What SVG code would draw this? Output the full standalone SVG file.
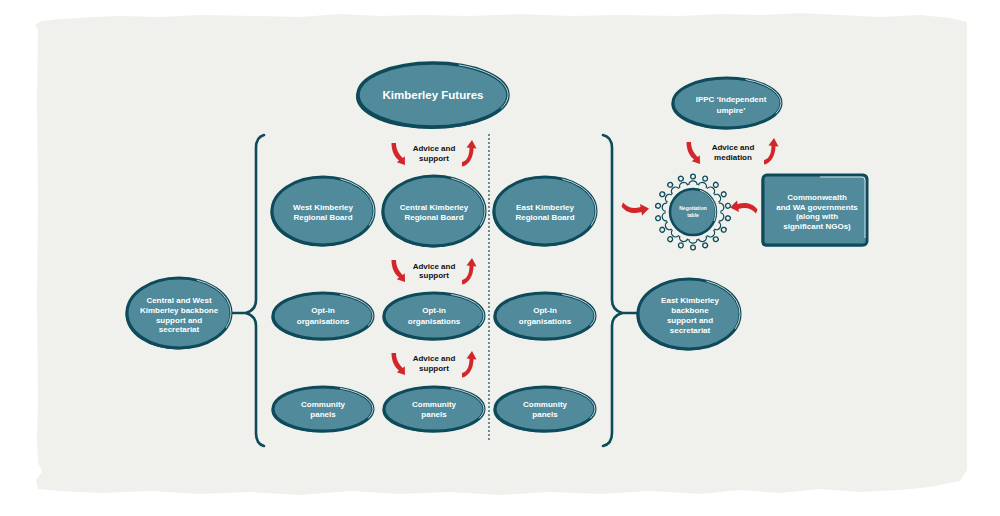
<svg xmlns="http://www.w3.org/2000/svg" xmlns:xlink="http://www.w3.org/1999/xlink" width="1000" height="516" viewBox="0 0 1000 516">
<style>
.el{fill:#508a9b;stroke:#0d4a5a;stroke-width:3}
.sh{fill:#0d4a5a}
.hl{fill:none;stroke:#ffffff;stroke-width:0.9;opacity:0.85}
.t{font-family:"Liberation Sans",Arial,sans-serif;font-weight:bold;font-size:8px;fill:#ffffff;text-anchor:middle}
.lab{font-family:"Liberation Sans",Arial,sans-serif;font-weight:bold;font-size:8px;fill:#111111;text-anchor:middle}
.br{fill:none;stroke:#0d4a5a;stroke-width:2.6;stroke-linecap:round;stroke-linejoin:round}
.arr{fill:#d3262b}
.ppl{fill:none;stroke:#0d4a5a;stroke-width:1.3}
</style>
<defs>
<path id="arrDown" d="M-1.5,0 C-1.5,8 1.5,14 6,17.5 L3.8,19.2 L12,22 L11.8,13.2 L9.8,15 C5.5,11 3,6 3,0 Z"/>
<path id="arrUp" d="M0,-1 C4,-1.5 7.5,-6 7.5,-15.2 L4.5,-15.5 L10,-23 L14.5,-14.5 L11.5,-14.8 C11.5,-5 6,3 0,3.5 Z"/>
<path id="arrSide" d="M0,-2.5 C5,3 11,4 17.5,2 L17,-1 L26,3.5 L19,10.5 L18.4,7 C10,9.5 3,7.5 -1.5,1.5 Z"/>
<g id="person"><circle cx="0" cy="-35.5" r="2.4"/><path d="M-4.2,-27 A4.2,4.2 0 0 1 4.2,-27"/></g>
</defs>

<path id="background" fill="#f0f0ec" d="M38,30 L35,25 L41,21 L60,19 L95,17 L120,16 L160,17 L200,15 L260,16 L300,17 L340,14 L380,16 L420,15 L470,16 L520,14 L570,16 L620,15 L680,16 L720,14 L760,15 L800,13 L840,15 L880,17 L920,15 L950,18 L967,22 L967,470 L960,481 L930,487 L900,490 L860,492 L820,489 L780,493 L740,490 L700,494 L650,491 L600,494 L550,492 L500,495 L450,492 L400,494 L350,491 L300,495 L250,492 L200,494 L150,491 L100,493 L60,491 L38,489 L36,480 L42,472 L38,462 L37,440 L38,400 L37,300 L38,200 L37,100 Z"/>

<g id="connectors">
<path class="br" d="M264,135 Q256,137 256,148 L256,300 Q256,310 246,313 Q256,316 256,326 L256,433 Q256,444 264,446"/>
<line class="br" x1="231" y1="313" x2="246" y2="313"/>
<path class="br" d="M603,135 Q612,137 612,148 L612,300 Q612,310 622,313 Q612,316 612,326 L612,433 Q612,444 603,446"/>
<line class="br" x1="622" y1="313" x2="638" y2="313"/>
<line x1="489" y1="134" x2="489" y2="441" stroke="#0d4a5a" stroke-width="1.2" stroke-dasharray="2 2"/>
<g class="arr">
<use xlink:href="#arrDown" transform="translate(393,143)"/>
<use xlink:href="#arrUp" transform="translate(462,163)"/>
<use xlink:href="#arrDown" transform="translate(393,260)"/>
<use xlink:href="#arrUp" transform="translate(462,281)"/>
<use xlink:href="#arrDown" transform="translate(393,353)"/>
<use xlink:href="#arrUp" transform="translate(462,374)"/>
<use xlink:href="#arrDown" transform="translate(688,142)"/>
<use xlink:href="#arrUp" transform="translate(764,161)"/>
<use xlink:href="#arrSide" transform="translate(623,205)"/>
<use xlink:href="#arrSide" transform="translate(756,211) rotate(180)"/>
</g>
<text class="lab" x="434" y="151">Advice and</text>
<text class="lab" x="434" y="161">support</text>
<text class="lab" x="434" y="269">Advice and</text>
<text class="lab" x="434" y="278">support</text>
<text class="lab" x="434" y="361">Advice and</text>
<text class="lab" x="434" y="371">support</text>
<text class="lab" x="733" y="150">Advice and</text>
<text class="lab" x="733" y="160">mediation</text>
</g>

<g id="kimberley-futures">
<ellipse class="sh" cx="431" cy="97" rx="75" ry="32"/>
<ellipse class="el" cx="433" cy="95" rx="75" ry="32" style="stroke-width:3.5"/>
<path class="hl" d="M458.7,64.9 A75,32 0 0 1 501,108.5"/>
<text class="t" x="433" y="99" style="font-size:11.5px">Kimberley Futures</text>
</g>

<g id="west-kimberley-regional-board">
<ellipse class="sh" cx="321.5" cy="212.5" rx="51" ry="34"/>
<ellipse class="el" cx="323" cy="211" rx="51" ry="34"/>
<path class="hl" d="M340.4,179 A51,34 0 0 1 369.2,225.4"/>
<text class="t" x="323" y="210">West Kimberley</text>
<text class="t" x="323" y="220">Regional Board</text>
</g>

<g id="central-kimberley-regional-board">
<ellipse class="sh" cx="432.5" cy="212.5" rx="51" ry="35"/>
<ellipse class="el" cx="434" cy="211" rx="51" ry="35"/>
<path class="hl" d="M451.4,178.1 A51,35 0 0 1 480.2,225.8"/>
<text class="t" x="434" y="210">Central Kimberley</text>
<text class="t" x="434" y="220">Regional Board</text>
</g>

<g id="east-kimberley-regional-board">
<ellipse class="sh" cx="543.5" cy="212.5" rx="51" ry="34"/>
<ellipse class="el" cx="545" cy="211" rx="51" ry="34"/>
<path class="hl" d="M562.4,179 A51,34 0 0 1 591.2,225.4"/>
<text class="t" x="545" y="210">East Kimberley</text>
<text class="t" x="545" y="220">Regional Board</text>
</g>

<g id="optin-west">
<ellipse class="sh" cx="321.5" cy="317.5" rx="50" ry="23"/>
<ellipse class="el" cx="323" cy="316" rx="50" ry="23"/>
<path class="hl" d="M340.1,294.4 A50,23 0 0 1 368.3,325.7"/>
<text class="t" x="323" y="313">Opt-in</text>
<text class="t" x="323" y="324">organisations</text>
</g>

<g id="optin-central">
<ellipse class="sh" cx="432.5" cy="317.5" rx="50" ry="23"/>
<ellipse class="el" cx="434" cy="316" rx="50" ry="23"/>
<path class="hl" d="M451.1,294.4 A50,23 0 0 1 479.3,325.7"/>
<text class="t" x="434" y="313">Opt-in</text>
<text class="t" x="434" y="324">organisations</text>
</g>

<g id="optin-east">
<ellipse class="sh" cx="543.5" cy="317.5" rx="50" ry="23"/>
<ellipse class="el" cx="545" cy="316" rx="50" ry="23"/>
<path class="hl" d="M562.1,294.4 A50,23 0 0 1 590.3,325.7"/>
<text class="t" x="545" y="313">Opt-in</text>
<text class="t" x="545" y="324">organisations</text>
</g>

<g id="community-west">
<ellipse class="sh" cx="321.5" cy="410.5" rx="50" ry="22"/>
<ellipse class="el" cx="323" cy="409" rx="50" ry="22"/>
<path class="hl" d="M340.1,388.3 A50,22 0 0 1 368.3,418.3"/>
<text class="t" x="323" y="407">Community</text>
<text class="t" x="323" y="417">panels</text>
</g>

<g id="community-central">
<ellipse class="sh" cx="432.5" cy="410.5" rx="50" ry="22"/>
<ellipse class="el" cx="434" cy="409" rx="50" ry="22"/>
<path class="hl" d="M451.1,388.3 A50,22 0 0 1 479.3,418.3"/>
<text class="t" x="434" y="407">Community</text>
<text class="t" x="434" y="417">panels</text>
</g>

<g id="community-east">
<ellipse class="sh" cx="543.5" cy="410.5" rx="50" ry="22"/>
<ellipse class="el" cx="545" cy="409" rx="50" ry="22"/>
<path class="hl" d="M562.1,388.3 A50,22 0 0 1 590.3,418.3"/>
<text class="t" x="545" y="407">Community</text>
<text class="t" x="545" y="417">panels</text>
</g>

<g id="central-west-backbone">
<ellipse class="sh" cx="177.5" cy="314.5" rx="52" ry="35"/>
<ellipse class="el" cx="179" cy="313" rx="52" ry="35"/>
<path class="hl" d="M196.8,280.1 A52,35 0 0 1 226.1,327.8"/>
<text class="t" x="179" y="303">Central and West</text>
<text class="t" x="179" y="312.5">Kimberley backbone</text>
<text class="t" x="179" y="322.5">support and</text>
<text class="t" x="179" y="332">secretariat</text>
</g>

<g id="east-backbone">
<ellipse class="sh" cx="687.5" cy="315.5" rx="51" ry="35"/>
<ellipse class="el" cx="689" cy="314" rx="51" ry="35"/>
<path class="hl" d="M706.4,281.1 A51,35 0 0 1 735.2,328.8"/>
<text class="t" x="690" y="303">East Kimberley</text>
<text class="t" x="690" y="313">backbone</text>
<text class="t" x="690" y="323">support and</text>
<text class="t" x="690" y="333">secretariat</text>
</g>

<g id="ippc">
<ellipse class="sh" cx="725.5" cy="104.5" rx="54" ry="25"/>
<ellipse class="el" cx="727" cy="103" rx="54" ry="25"/>
<path class="hl" d="M745.5,79.5 A54,25 0 0 1 775.9,113.6"/>
<text class="t" x="731" y="102">IPPC ‘Independent</text>
<text class="t" x="731" y="113">umpire’</text>
</g>

<g id="commonwealth">
<rect class="sh" x="761.5" y="176.5" width="104" height="70" rx="4"/>
<rect class="el" x="763" y="175" width="104" height="70" rx="4"/>
<path class="hl" d="M820,177 L862,177 Q865,177 865,180 L865,238"/>
<text class="t" x="817" y="200">Commonwealth</text>
<text class="t" x="817" y="209.5">and WA governments</text>
<text class="t" x="817" y="219">(along with</text>
<text class="t" x="817" y="229">significant NGOs)</text>
</g>

<g id="negotiation-table">
<g class="ppl" transform="translate(693,212)">
<use xlink:href="#person" transform="rotate(0)"/>
<use xlink:href="#person" transform="rotate(20)"/>
<use xlink:href="#person" transform="rotate(40)"/>
<use xlink:href="#person" transform="rotate(60)"/>
<use xlink:href="#person" transform="rotate(80)"/>
<use xlink:href="#person" transform="rotate(100)"/>
<use xlink:href="#person" transform="rotate(120)"/>
<use xlink:href="#person" transform="rotate(140)"/>
<use xlink:href="#person" transform="rotate(160)"/>
<use xlink:href="#person" transform="rotate(180)"/>
<use xlink:href="#person" transform="rotate(200)"/>
<use xlink:href="#person" transform="rotate(220)"/>
<use xlink:href="#person" transform="rotate(240)"/>
<use xlink:href="#person" transform="rotate(260)"/>
<use xlink:href="#person" transform="rotate(280)"/>
<use xlink:href="#person" transform="rotate(300)"/>
<use xlink:href="#person" transform="rotate(320)"/>
<use xlink:href="#person" transform="rotate(340)"/>
</g>
<circle class="el" cx="693" cy="212" r="23" style="stroke-width:2.5"/>
<path class="hl" d="M700,190.3 A23,23 0 0 1 714,221"/>
<text class="t" x="693" y="210" style="font-size:5px">Negotiation</text>
<text class="t" x="693" y="216.5" style="font-size:5px">table</text>
</g>
</svg>
